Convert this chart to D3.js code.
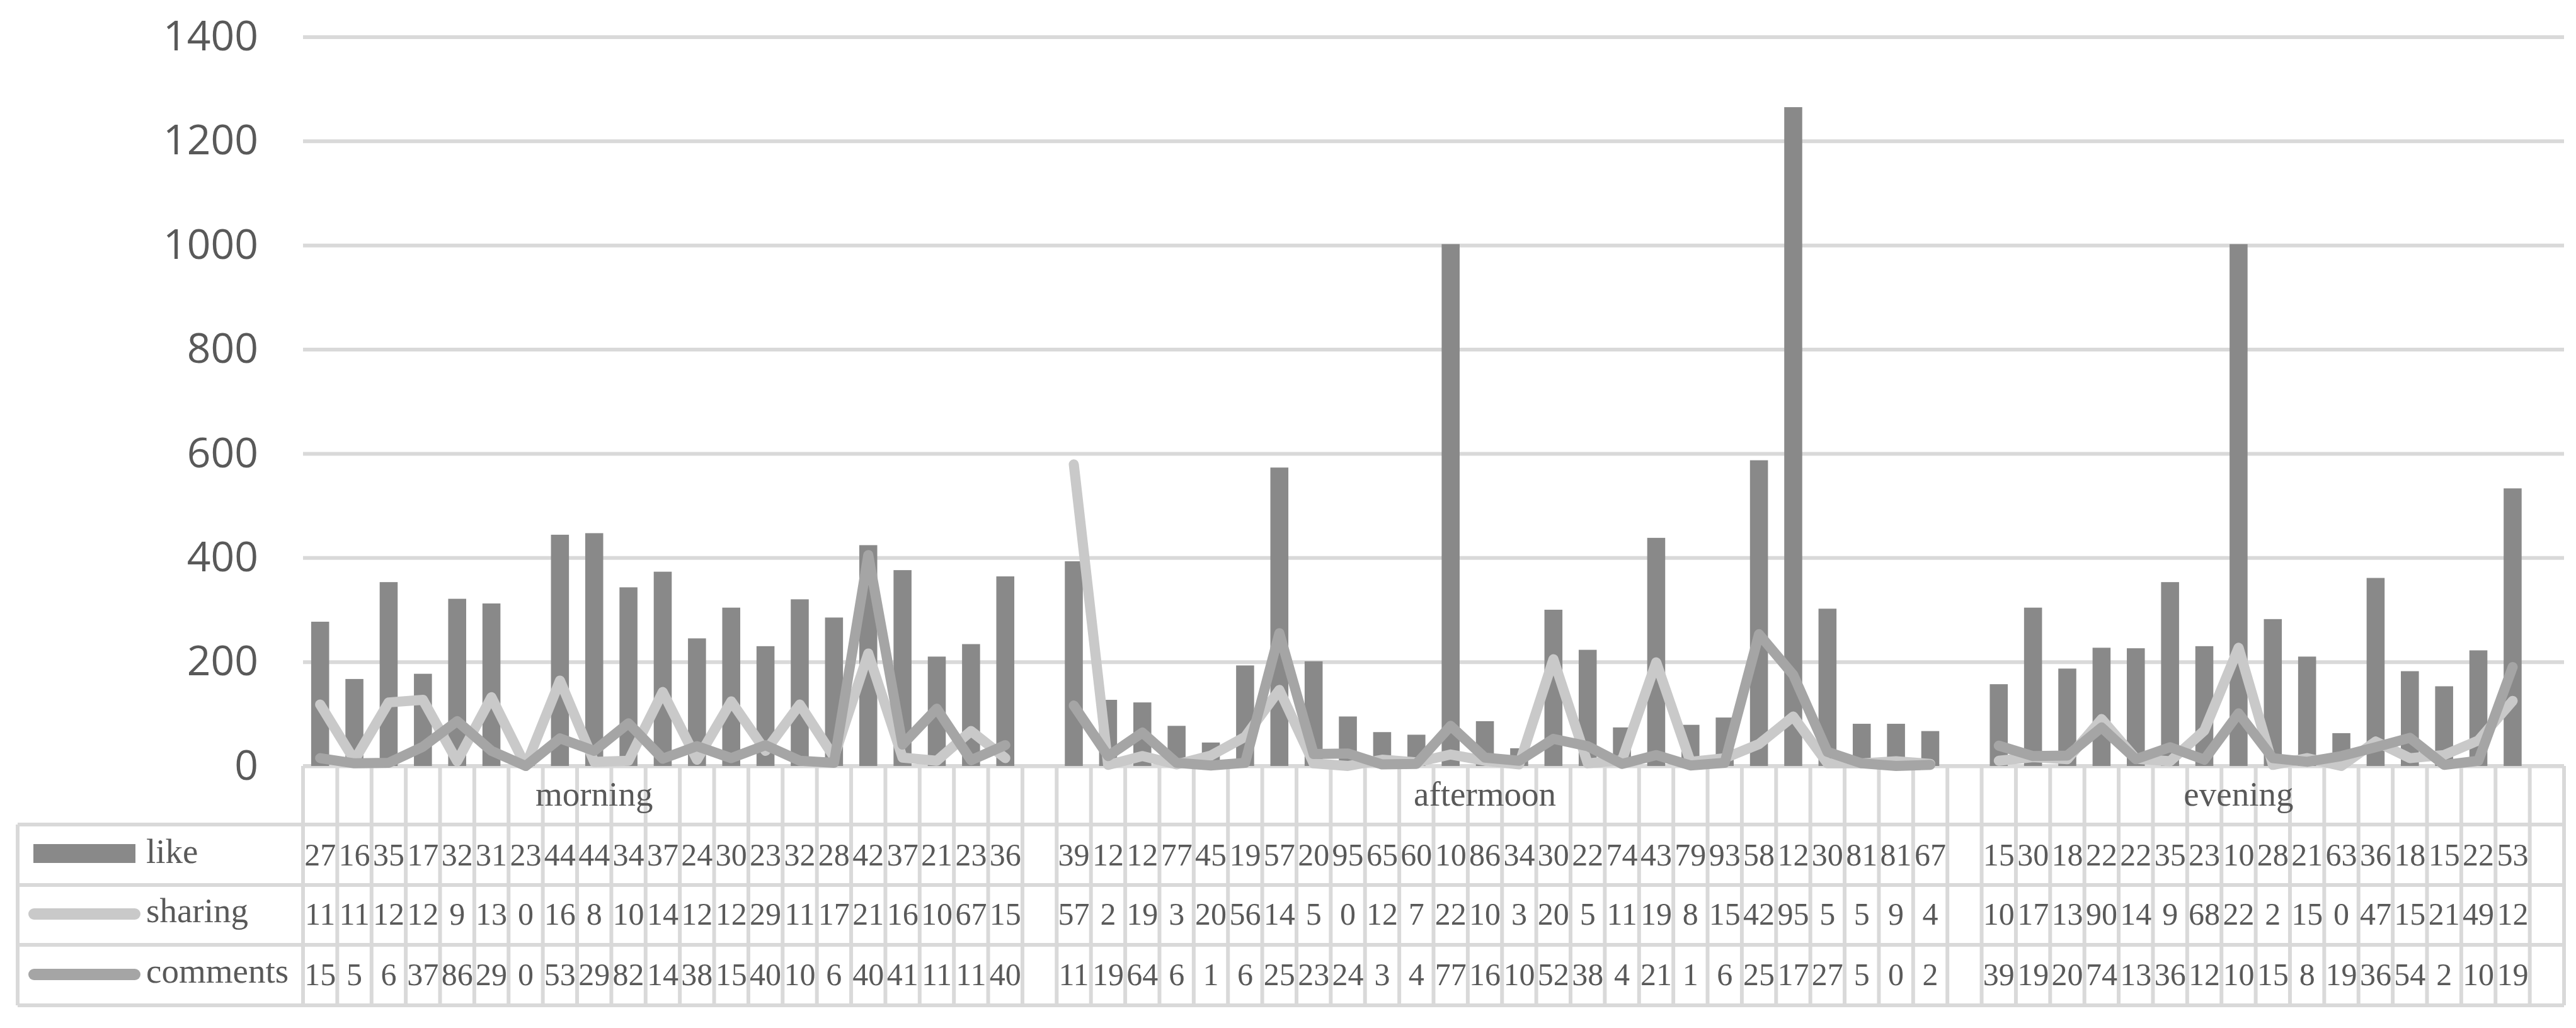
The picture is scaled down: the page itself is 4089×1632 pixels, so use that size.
<!DOCTYPE html>
<html>
<head>
<meta charset="utf-8">
<style>
  body { margin: 0; background: #fff; }
  .tbl text { font-family: "Liberation Serif", serif; fill: #595959; }
  .tbl .num { font-size: 50px; }
  .tbl .word { font-size: 55px; }
</style>
</head>
<body>
<script src="https://cdn.jsdelivr.net/npm/d3@7"></script>
<script>
// groups on the category axis, each followed by one empty category
var groups = ["morning", "aftermoon", "evening"];
// category (inside its group) that the group label is centred on
var groupLabelAt = [8, 12, 7];

var series = ["like", "sharing", "comments"];

var likeMorning     = [277, 167, 353, 177, 321, 312, 23, 444, 447, 343, 373, 245, 304, 230, 320, 285, 424, 376, 210, 234, 364];
var sharingMorning  = [118, 11, 122, 127, 9, 132, 0, 164, 8, 10, 142, 12, 124, 29, 118, 17, 216, 16, 10, 67, 15];
var commentsMorning = [15, 5, 6, 37, 86, 29, 0, 53, 29, 82, 14, 38, 15, 40, 10, 6, 405, 41, 110, 11, 40];

var likeAftermoon     = [393, 127, 122, 77, 45, 193, 573, 201, 95, 65, 60, 1002, 86, 34, 300, 223, 74, 438, 79, 93, 587, 1265, 302, 81, 81, 67];
var sharingAftermoon  = [579, 2, 19, 3, 20, 56, 146, 5, 0, 12, 7, 22, 10, 3, 205, 5, 11, 199, 8, 15, 42, 95, 5, 5, 9, 4];
var commentsAftermoon = [116, 19, 64, 6, 1, 6, 255, 23, 24, 3, 4, 77, 16, 10, 52, 38, 4, 21, 1, 6, 253, 175, 27, 5, 0, 2];

var likeEvening     = [157, 304, 187, 227, 226, 353, 230, 1002, 282, 210, 63, 361, 182, 153, 222, 533];
var sharingEvening  = [10, 17, 13, 90, 14, 9, 68, 227, 2, 15, 0, 47, 15, 21, 49, 125];
var commentsEvening = [39, 19, 20, 74, 13, 36, 12, 101, 15, 8, 19, 36, 54, 2, 10, 190];

var yTicks = [0, 200, 400, 600, 800, 1000, 1200, 1400];

var seriesData = [
  [likeMorning, likeAftermoon, likeEvening],
  [sharingMorning, sharingAftermoon, sharingEvening],
  [commentsMorning, commentsAftermoon, commentsEvening]
];

// flatten into categories, one blank after each group
var cats = [];
groups.forEach(function(g, gi) {
  for (var i = 0; i < seriesData[0][gi].length; i++) {
    cats.push({ group: g, gi: gi, i: i,
      like: seriesData[0][gi][i], sharing: seriesData[1][gi][i], comments: seriesData[2][gi][i] });
  }
  cats.push({ group: g, gi: gi, blank: true });
});

var W = 4089, H = 1632;
var plotLeft = 481, plotRight = 4070, plotTop = 58.5, base = 1216;
var rows = [1309, 1405, 1500, 1596];   // table row borders below the category row
var tableLeft = 28;
var gridCol = "#d9d9d9", textCol = "#595959";
var colors = { like: "#898989", sharing: "#c9c9c9", comments: "#a5a5a5" };

var svg = d3.select("body").append("svg")
  .attr("width", W).attr("height", H)
  .style("background", "#fff");

var x = d3.scaleBand().domain(d3.range(cats.length)).range([plotLeft, plotRight]).padding(0);
var y = d3.scaleLinear().domain([0, 1400]).range([base, plotTop]);

// gridlines + tick labels
var yAxis = svg.append("g")
  .attr("transform", "translate(" + plotLeft + ",0)")
  .call(d3.axisLeft(y).tickValues(yTicks).tickFormat(d3.format("d"))
    .tickSize(-(plotRight - plotLeft)).tickPadding(71));
yAxis.select(".domain").remove();
yAxis.selectAll("line").attr("stroke", gridCol).attr("stroke-width", 6);
yAxis.selectAll("text").attr("fill", textCol)
  .style("font-family", "'Open Sans', sans-serif").style("font-size", "66px");

// data table grid
var tbl = svg.append("g").attr("class", "tbl");
var grid = tbl.append("g").attr("stroke", gridCol).attr("stroke-width", 6);
grid.append("line").attr("x1", plotLeft).attr("x2", plotRight).attr("y1", base).attr("y2", base);
rows.forEach(function(r) {
  grid.append("line").attr("x1", tableLeft).attr("x2", plotRight).attr("y1", r).attr("y2", r);
});
grid.append("line").attr("x1", tableLeft).attr("x2", tableLeft).attr("y1", rows[0]).attr("y2", rows[3]);
grid.selectAll(".vcol")
  .data(d3.range(cats.length + 1))
  .enter().append("line")
  .attr("x1", function(i) { return i < cats.length ? x(i) : plotRight; })
  .attr("x2", function(i) { return i < cats.length ? x(i) : plotRight; })
  .attr("y1", base).attr("y2", rows[3]);

var indexed = cats.map(function(d, i) { return { d: d, i: i }; });
var filled = indexed.filter(function(o) { return !o.d.blank; });

// bars
var bw = x.bandwidth() * 0.525;
svg.append("g").selectAll("rect")
  .data(filled)
  .enter().append("rect")
  .attr("x", function(o) { return x(o.i) + (x.bandwidth() - bw) / 2; })
  .attr("y", function(o) { return y(o.d.like); })
  .attr("width", bw)
  .attr("height", function(o) { return base - y(o.d.like); })
  .attr("fill", colors.like);

// lines, broken at the blank categories
["sharing", "comments"].forEach(function(s) {
  var line = d3.line()
    .defined(function(o) { return !o.d.blank; })
    .x(function(o) { return x(o.i) + x.bandwidth() / 2; })
    .y(function(o) { return y(o.d[s]); });
  svg.append("path")
    .datum(indexed)
    .attr("d", line)
    .attr("fill", "none")
    .attr("stroke", colors[s])
    .attr("stroke-width", 16)
    .attr("stroke-linejoin", "round")
    .attr("stroke-linecap", "round");
});

// group labels
var offsets = [];
cats.forEach(function(d, i) { if (!d.blank && d.i === 0) offsets[d.gi] = i; });
tbl.selectAll(".glab")
  .data(groups)
  .enter().append("text")
  .attr("class", "word")
  .attr("x", function(g, gi) { return x(offsets[gi] + groupLabelAt[gi]) + x.bandwidth() / 2; })
  .attr("y", 1279)
  .attr("text-anchor", "middle")
  .text(function(g) { return g; });

// table values (cells only fit the first two characters)
var baselines = [1374, 1468, 1564];
series.forEach(function(s, si) {
  tbl.append("g").selectAll("text")
    .data(filled)
    .enter().append("text")
    .attr("class", "num")
    .attr("x", function(o) { return x(o.i) + x.bandwidth() / 2; })
    .attr("y", baselines[si])
    .attr("text-anchor", "middle")
    .text(function(o) { return String(o.d[s]).slice(0, 2); });
});

// legend keys in the table
var keys = tbl.append("g");
keys.append("rect").attr("x", 53).attr("y", 1340).attr("width", 162).attr("height", 30).attr("fill", colors.like);
keys.append("line").attr("x1", 54).attr("x2", 214).attr("y1", 1451).attr("y2", 1451)
  .attr("stroke", colors.sharing).attr("stroke-width", 18).attr("stroke-linecap", "round");
keys.append("line").attr("x1", 54).attr("x2", 214).attr("y1", 1547).attr("y2", 1547)
  .attr("stroke", colors.comments).attr("stroke-width", 18).attr("stroke-linecap", "round");
series.forEach(function(s, si) {
  keys.append("text").attr("class", "word").attr("x", 232).attr("y", baselines[si] - 4).text(s);
});
</script>
</body>
</html>
